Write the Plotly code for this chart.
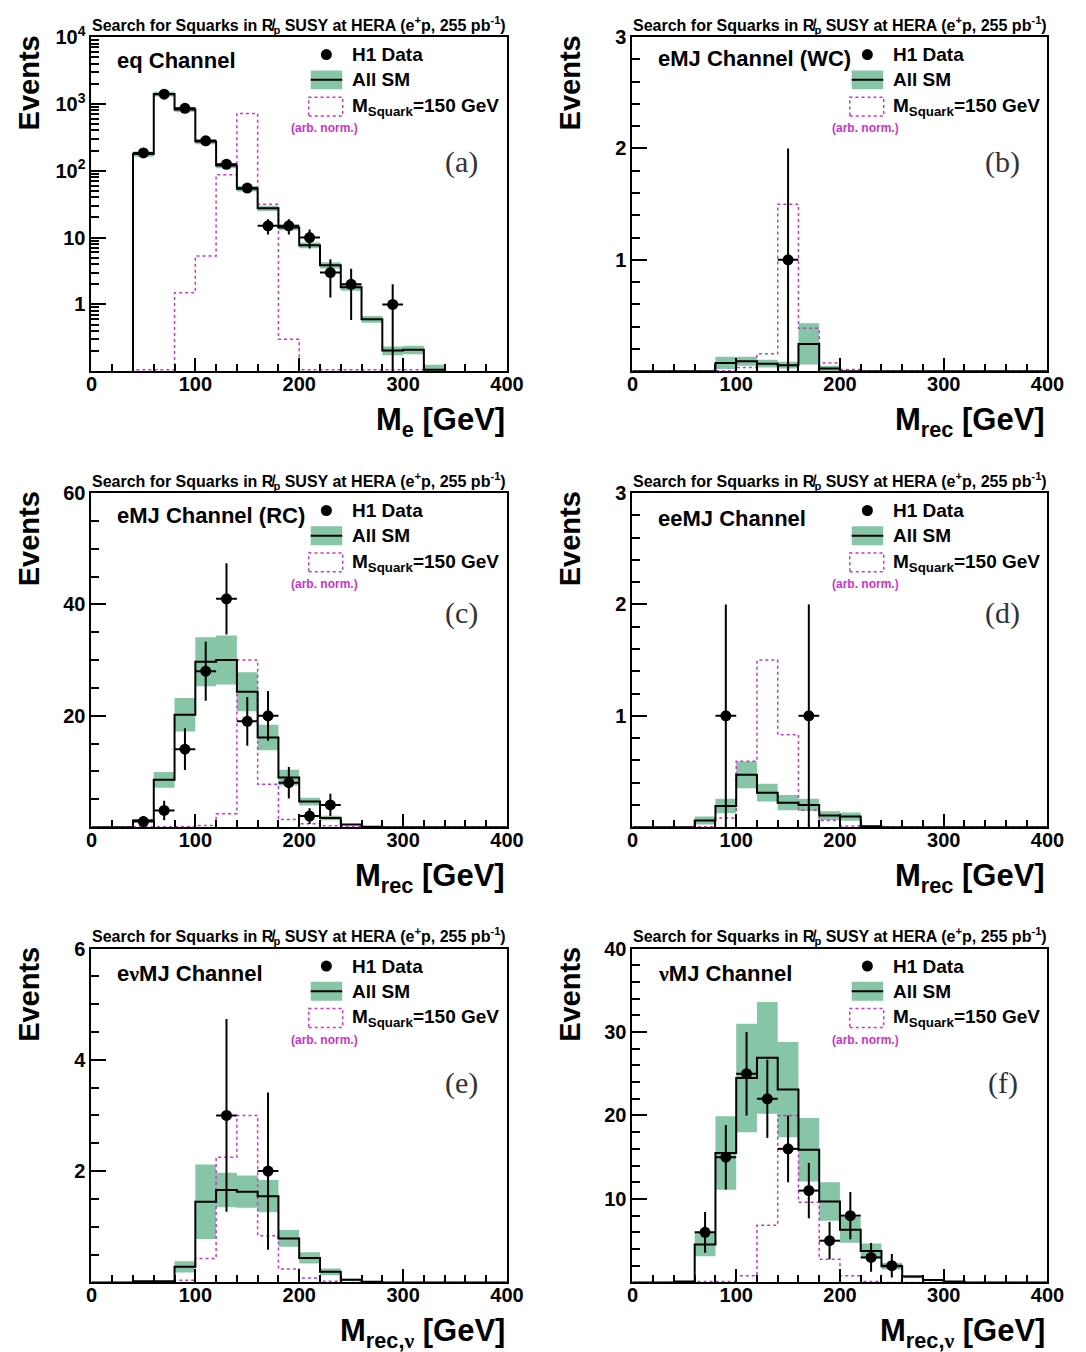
import numpy as np
import plotly.graph_objects as go

# ---------------- data ----------------
bin_edges = list(range(0, 401, 20))   # 20 GeV bins, 0..400

# (a) eq channel (log scale)
sm_a  = [0, 0, 178, 1405, 825, 274, 120, 54, 27.4, 14.2, 7.7, 3.86, 1.8, 0.6, 0.204, 0.21, 0.105, 0, 0, 0]
err_a = [0, 0, 16, 120, 70, 24, 11, 5, 2.5, 1.3, 0.75, 0.4, 0.2, 0.07, 0.03, 0.03, 0.02, 0, 0, 0]
sig_a = [0, 0, 0.105, 0.105, 1.5, 5.3, 87, 720, 31.5, 0.3, 0.105, 0.105, 0.105, 0.105, 0.105, 0.105, 0, 0, 0, 0]
data_a_x = [50, 70, 90, 110, 130, 150, 170, 190, 210, 230, 250, 290]
data_a_n = [185, 1400, 860, 280, 125, 55, 15, 15, 10, 3, 2, 1]

# (b) eMJ channel (WC)
sm_b  = [0, 0, 0, 0, 0.075, 0.09, 0.068, 0.055, 0.245, 0.025, 0, 0, 0, 0, 0, 0, 0, 0, 0, 0]
err_b = [0, 0, 0, 0, 0.055, 0.04, 0.035, 0.03, 0.185, 0.025, 0, 0, 0, 0, 0, 0, 0, 0, 0, 0]
sig_b = [0, 0, 0, 0, 0.005, 0.033, 0.157, 1.5, 0.385, 0.074, 0.015, 0, 0, 0, 0, 0, 0, 0, 0, 0]
data_b_x = [150]
data_b_n = [1]

# (c) eMJ channel (RC)
sm_c  = [0, 0, 1.18, 8.5, 20.2, 29.7, 30.0, 24.3, 16.1, 8.9, 4.6, 1.65, 0.47, 0.1, 0, 0, 0, 0, 0, 0]
err_c = [0, 0, 0.3, 1.4, 3.0, 4.4, 4.4, 3.5, 2.3, 1.4, 0.7, 0.4, 0.1, 0.05, 0, 0, 0, 0, 0, 0]
sig_c = [0, 0, 0.1, 0.1, 0.1, 0.3, 2.4, 30, 7.7, 1.36, 0.6, 0.25, 0.1, 0, 0, 0, 0, 0, 0, 0]
data_c_x = [50, 70, 90, 110, 130, 150, 170, 190, 210, 230]
data_c_n = [1, 3, 14, 28, 41, 19, 20, 8, 2, 4]

# (d) eeMJ channel
sm_d  = [0, 0, 0, 0.06, 0.19, 0.47, 0.31, 0.22, 0.2, 0.104, 0.095, 0.009, 0, 0, 0, 0, 0, 0, 0, 0]
err_d = [0, 0, 0, 0.035, 0.065, 0.12, 0.08, 0.068, 0.055, 0.04, 0.037, 0.005, 0, 0, 0, 0, 0, 0, 0, 0]
sig_d = [0, 0, 0, 0.005, 0.083, 0.593, 1.5, 0.83, 0.154, 0.059, 0.01, 0, 0, 0, 0, 0, 0, 0, 0, 0]
data_d_x = [90, 170]
data_d_n = [1, 1]

# (e) e-nu-MJ channel
sm_e  = [0, 0, 0.02, 0.02, 0.28, 1.45, 1.66, 1.63, 1.55, 0.79, 0.44, 0.19, 0.047, 0.01, 0, 0, 0, 0, 0, 0]
err_e = [0, 0, 0.01, 0.01, 0.1, 0.67, 0.31, 0.29, 0.29, 0.15, 0.1, 0.06, 0.02, 0.005, 0, 0, 0, 0, 0, 0]
sig_e = [0, 0, 0, 0, 0.04, 0.43, 2.25, 3.0, 0.84, 0.24, 0.08, 0.02, 0, 0, 0, 0, 0, 0, 0, 0]
data_e_x = [130, 170]
data_e_n = [3, 2]

# (f) nu-MJ channel
sm_f  = [0, 0, 0.12, 4.55, 15.5, 24.5, 26.9, 23.1, 15.9, 9.7, 6.3, 3.75, 1.95, 0.7, 0.28, 0.1, 0, 0, 0, 0]
err_f = [0, 0, 0.05, 1.4, 4.4, 6.5, 6.7, 5.7, 3.8, 2.3, 1.55, 0.9, 0.4, 0.2, 0.08, 0.04, 0, 0, 0, 0]
sig_f = [0, 0, 0, 0.1, 0.1, 0.8, 6.85, 20, 9.6, 2.77, 0.8, 0.1, 0, 0, 0, 0, 0, 0, 0, 0]
data_f_x = [70, 90, 110, 130, 150, 170, 190, 210, 230, 250]
data_f_n = [6, 15, 25, 22, 16, 11, 5, 8, 3, 2]

x_tick_vals = [0, 100, 200, 300, 400]

NU = '<span style="font-family:Liberation Serif">ν</span>'
TITLE = 'Search for Squarks in R\u0338<sub>p</sub> SUSY at HERA (e<sup>+</sup>p, 255 pb<sup>-1</sup>)'

panels = [
    dict(key='a', sm=sm_a, err=err_a, sig=sig_a, dx=data_a_x, dn=data_a_n, log=True,
         yr=[-1, 4], yt=[1, 10, 100, 1000, 10000], ytt=['1', '10', '10<sup>2</sup>', '10<sup>3</sup>', '10<sup>4</sup>'],
         chan='eq Channel', xt='M<sub>e</sub> [GeV]', lab='(a)', laby=126.7, chany=23.7),
    dict(key='b', sm=sm_b, err=err_b, sig=sig_b, dx=data_b_x, dn=data_b_n, log=False,
         yr=[0, 3], yt=[1, 2, 3], ytt=['1', '2', '3'], ym=0.2,
         chan='eMJ Channel (WC)', xt='M<sub>rec</sub> [GeV]', lab='(b)', laby=126.7, chany=21.7),
    dict(key='c', sm=sm_c, err=err_c, sig=sig_c, dx=data_c_x, dn=data_c_n, log=False,
         yr=[0, 60], yt=[20, 40, 60], ytt=['20', '40', '60'], ym=5,
         chan='eMJ Channel (RC)', xt='M<sub>rec</sub> [GeV]', lab='(c)', laby=121, chany=22.7),
    dict(key='d', sm=sm_d, err=err_d, sig=sig_d, dx=data_d_x, dn=data_d_n, log=False,
         yr=[0, 3], yt=[1, 2, 3], ytt=['1', '2', '3'], ym=0.2,
         chan='eeMJ Channel', xt='M<sub>rec</sub> [GeV]', lab='(d)', laby=121, chany=26),
    dict(key='e', sm=sm_e, err=err_e, sig=sig_e, dx=data_e_x, dn=data_e_n, log=False,
         yr=[0, 6], yt=[2, 4, 6], ytt=['2', '4', '6'], ym=0.5,
         chan='e' + NU + 'MJ Channel', xt='M<sub>rec,' + NU + '</sub> [GeV]', lab='(e)', laby=135.7, chany=25.7),
    dict(key='f', sm=sm_f, err=err_f, sig=sig_f, dx=data_f_x, dn=data_f_n, log=False,
         yr=[0, 40], yt=[10, 20, 30, 40], ytt=['10', '20', '30', '40'], ym=2,
         chan=NU + 'MJ Channel', xt='M<sub>rec,' + NU + '</sub> [GeV]', lab='(f)', laby=135.7, chany=25.7),
]

# ---------------- layout geometry (pixels) ----------------
W, H = 1086, 1352
frames = {
    'a': (87.3, 23.3, 511.8, 361.0),
    'b': (640.0, 23.3, 1064.0, 361.0),
    'c': (87.3, 484.0, 511.8, 821.7),
    'd': (640.0, 484.0, 1064.0, 821.7),
    'e': (87.3, 944.3, 511.8, 1281.7),
    'f': (640.0, 944.3, 1064.0, 1281.7),
}

GREEN = '#86c5a5'
MAGENTA = '#cc33cc'
SANS = 'Liberation Sans'
SERIF = 'Liberation Serif'

fig = go.Figure()
annotations = []
shapes = []

for i, p in enumerate(panels):
    n = i + 1
    sfx = '' if n == 1 else str(n)
    xref, yref = 'x' + sfx, 'y' + sfx
    x0, y0, x1, y1 = frames[p['key']]
    fw, fh = x1 - x0, y1 - y0

    def fx(px):
        return px / fw

    def fy(py):
        return 1 - py / fh

    sm = np.array(p['sm'], dtype=float)
    err = np.array(p['err'], dtype=float)
    sig = np.array(p['sig'], dtype=float)
    lo = sm - err
    hi = sm + err
    floor = 1e-3 if p['log'] else 0.0
    if p['log']:
        sm = np.where(sm > 0, sm, floor)
        sig = np.where(sig > 0, sig, floor)
        lo = np.where(lo > 0, lo, floor)
        hi = np.where(hi > 0, hi, floor)
    else:
        lo = np.clip(lo, 0, None)

    def steps(v):
        return list(v) + [v[-1]]

    fig.add_trace(go.Scatter(x=bin_edges, y=steps(lo), mode='lines', line=dict(width=0, shape='hv'),
                             xaxis=xref, yaxis=yref, showlegend=False, hoverinfo='skip'))
    fig.add_trace(go.Scatter(x=bin_edges, y=steps(hi), mode='lines', line=dict(width=0, shape='hv'),
                             fill='tonexty', fillcolor=GREEN,
                             xaxis=xref, yaxis=yref, showlegend=False, hoverinfo='skip'))
    fig.add_trace(go.Scatter(x=bin_edges, y=steps(sig), mode='lines',
                             line=dict(color=MAGENTA, width=1.5, shape='hv', dash='3px,3px'),
                             xaxis=xref, yaxis=yref, showlegend=False))
    fig.add_trace(go.Scatter(x=bin_edges, y=steps(sm), mode='lines',
                             line=dict(color='black', width=2, shape='hv'),
                             xaxis=xref, yaxis=yref, showlegend=False))
    dn = np.array(p['dn'], dtype=float)
    eup = np.sqrt(dn)
    edn = np.sqrt(dn)
    if p['log']:
        edn = np.where(dn - edn > 0, edn, dn - floor)
    fig.add_trace(go.Scatter(x=p['dx'], y=dn, mode='markers',
                             marker=dict(color='black', size=11),
                             error_y=dict(type='data', array=eup, arrayminus=edn, symmetric=False,
                                          thickness=2, width=0, color='black'),
                             error_x=dict(type='constant', value=10, thickness=2, width=0, color='black'),
                             xaxis=xref, yaxis=yref, showlegend=False))

    tickfont = dict(family=SANS, size=20, color='black', weight='bold')
    xaxis = dict(domain=[x0 / W, x1 / W], anchor=yref, range=[0, 400],
                 tickmode='array', tickvals=x_tick_vals, ticktext=[str(v) for v in x_tick_vals],
                 ticks='inside', ticklen=13, tickwidth=2, tickcolor='black', ticklabelstandoff=-6,
                 showline=True, linewidth=2, linecolor='black', mirror=True,
                 showgrid=False, zeroline=False, tickfont=tickfont,
                 minor=dict(tickmode='array', tickvals=list(range(0, 401, 20)), ticks='inside',
                            ticklen=7, tickwidth=2, tickcolor='black', showgrid=False))
    if p['log']:
        minor_vals = [m * 10.0 ** d for d in range(-1, 4) for m in range(2, 10)]
        yaxis = dict(type='log', range=p['yr'])
    else:
        minor_vals = list(np.arange(0, p['yr'][1] + 1e-9, p['ym']))
        yaxis = dict(range=p['yr'])
    yaxis.update(domain=[1 - y1 / H, 1 - y0 / H], anchor=xref,
                 tickmode='array', tickvals=p['yt'], ticktext=p['ytt'],
                 ticks='inside', ticklen=15, tickwidth=2, tickcolor='black',
                 showline=True, linewidth=2, linecolor='black', mirror=True,
                 showgrid=False, zeroline=False, tickfont=tickfont,
                 minor=dict(tickmode='array', tickvals=minor_vals, ticks='inside',
                            ticklen=8, tickwidth=2, tickcolor='black', showgrid=False))
    fig.layout['xaxis' + sfx] = xaxis
    fig.layout['yaxis' + sfx] = yaxis

    xd, yd = xref + ' domain', yref + ' domain'

    annotations.append(dict(text=TITLE, xref=xd, yref=yd, x=0.5, y=fy(-12.3), xanchor='center',
                            yanchor='middle', showarrow=False,
                            font=dict(family=SANS, size=16, color='black', weight='bold')))
    annotations.append(dict(text=p['chan'], xref=xd, yref=yd, x=fx(24), y=fy(p['chany']), xanchor='left',
                            yanchor='middle', showarrow=False,
                            font=dict(family=SANS, size=22, color='black', weight='bold')))
    annotations.append(dict(text=p['lab'], xref=xd, yref=yd, x=fx(378.4), y=fy(p['laby']), xanchor='center',
                            yanchor='middle', showarrow=False,
                            font=dict(family=SERIF, size=30, color='#333333')))
    annotations.append(dict(text='Events', xref=xd, yref=yd, x=fx(-64), y=fy(-4), xanchor='center',
                            yanchor='top', textangle=-90, showarrow=False,
                            font=dict(family=SANS, size=29, color='black', weight='bold')))
    annotations.append(dict(text=p['xt'], xref=xd, yref=yd, x=1.0, y=fy(fh + 29), xanchor='right',
                            yanchor='top', showarrow=False,
                            font=dict(family=SANS, size=31, color='black', weight='bold')))
    lfont = dict(family=SANS, size=19, color='black', weight='bold')
    annotations.append(dict(text='H1 Data', xref=xd, yref=yd, x=fx(263.7), y=fy(17.7), xanchor='left',
                            yanchor='middle', showarrow=False, font=lfont))
    annotations.append(dict(text='All SM', xref=xd, yref=yd, x=fx(263.7), y=fy(43.2), xanchor='left',
                            yanchor='middle', showarrow=False, font=lfont))
    annotations.append(dict(text='M<sub>Squark</sub>=150 GeV', xref=xd, yref=yd, x=fx(263.7), y=fy(70.5),
                            xanchor='left', yanchor='middle', showarrow=False, font=lfont))
    annotations.append(dict(text='(arb. norm.)', xref=xd, yref=yd, x=fx(238.3), y=fy(92), xanchor='center',
                            yanchor='middle', showarrow=False,
                            font=dict(family=SANS, size=12, color=MAGENTA, weight='bold')))
    shapes.append(dict(type='circle', xref=xd, yref=yd, xsizemode='pixel', ysizemode='pixel',
                       xanchor=fx(240), yanchor=fy(17.7), x0=-5.5, x1=5.5, y0=-5.5, y1=5.5,
                       fillcolor='black', line=dict(width=0)))
    shapes.append(dict(type='rect', xref=xd, yref=yd, x0=fx(224), x1=fx(256.2), y0=fy(52.7), y1=fy(33.7),
                       fillcolor=GREEN, line=dict(width=0)))
    shapes.append(dict(type='line', xref=xd, yref=yd, x0=fx(224), x1=fx(256.2), y0=fy(43.2), y1=fy(43.2),
                       line=dict(color='black', width=2)))
    shapes.append(dict(type='rect', xref=xd, yref=yd, x0=fx(222), x1=fx(256.7), y0=fy(79.7), y1=fy(60.7),
                       fillcolor='rgba(0,0,0,0)', line=dict(color=MAGENTA, width=1.5, dash='3px,3px')))

fig.update_layout(width=W, height=H, autosize=False, margin=dict(l=0, r=0, t=0, b=0),
                  paper_bgcolor='white', plot_bgcolor='white', showlegend=False,
                  annotations=annotations, shapes=shapes)

POST = ("document.documentElement.style.overflow='hidden';"
        "document.body.style.margin='0px';document.body.style.padding='0px';"
        "document.body.style.overflow='hidden';"
        "var gd=document.getElementById('{plot_id}');"
        "gd.style.position='fixed';gd.style.left='0px';gd.style.top='0px';")

fig.write_html('out.html', config={'displayModeBar': False}, post_script=POST)
